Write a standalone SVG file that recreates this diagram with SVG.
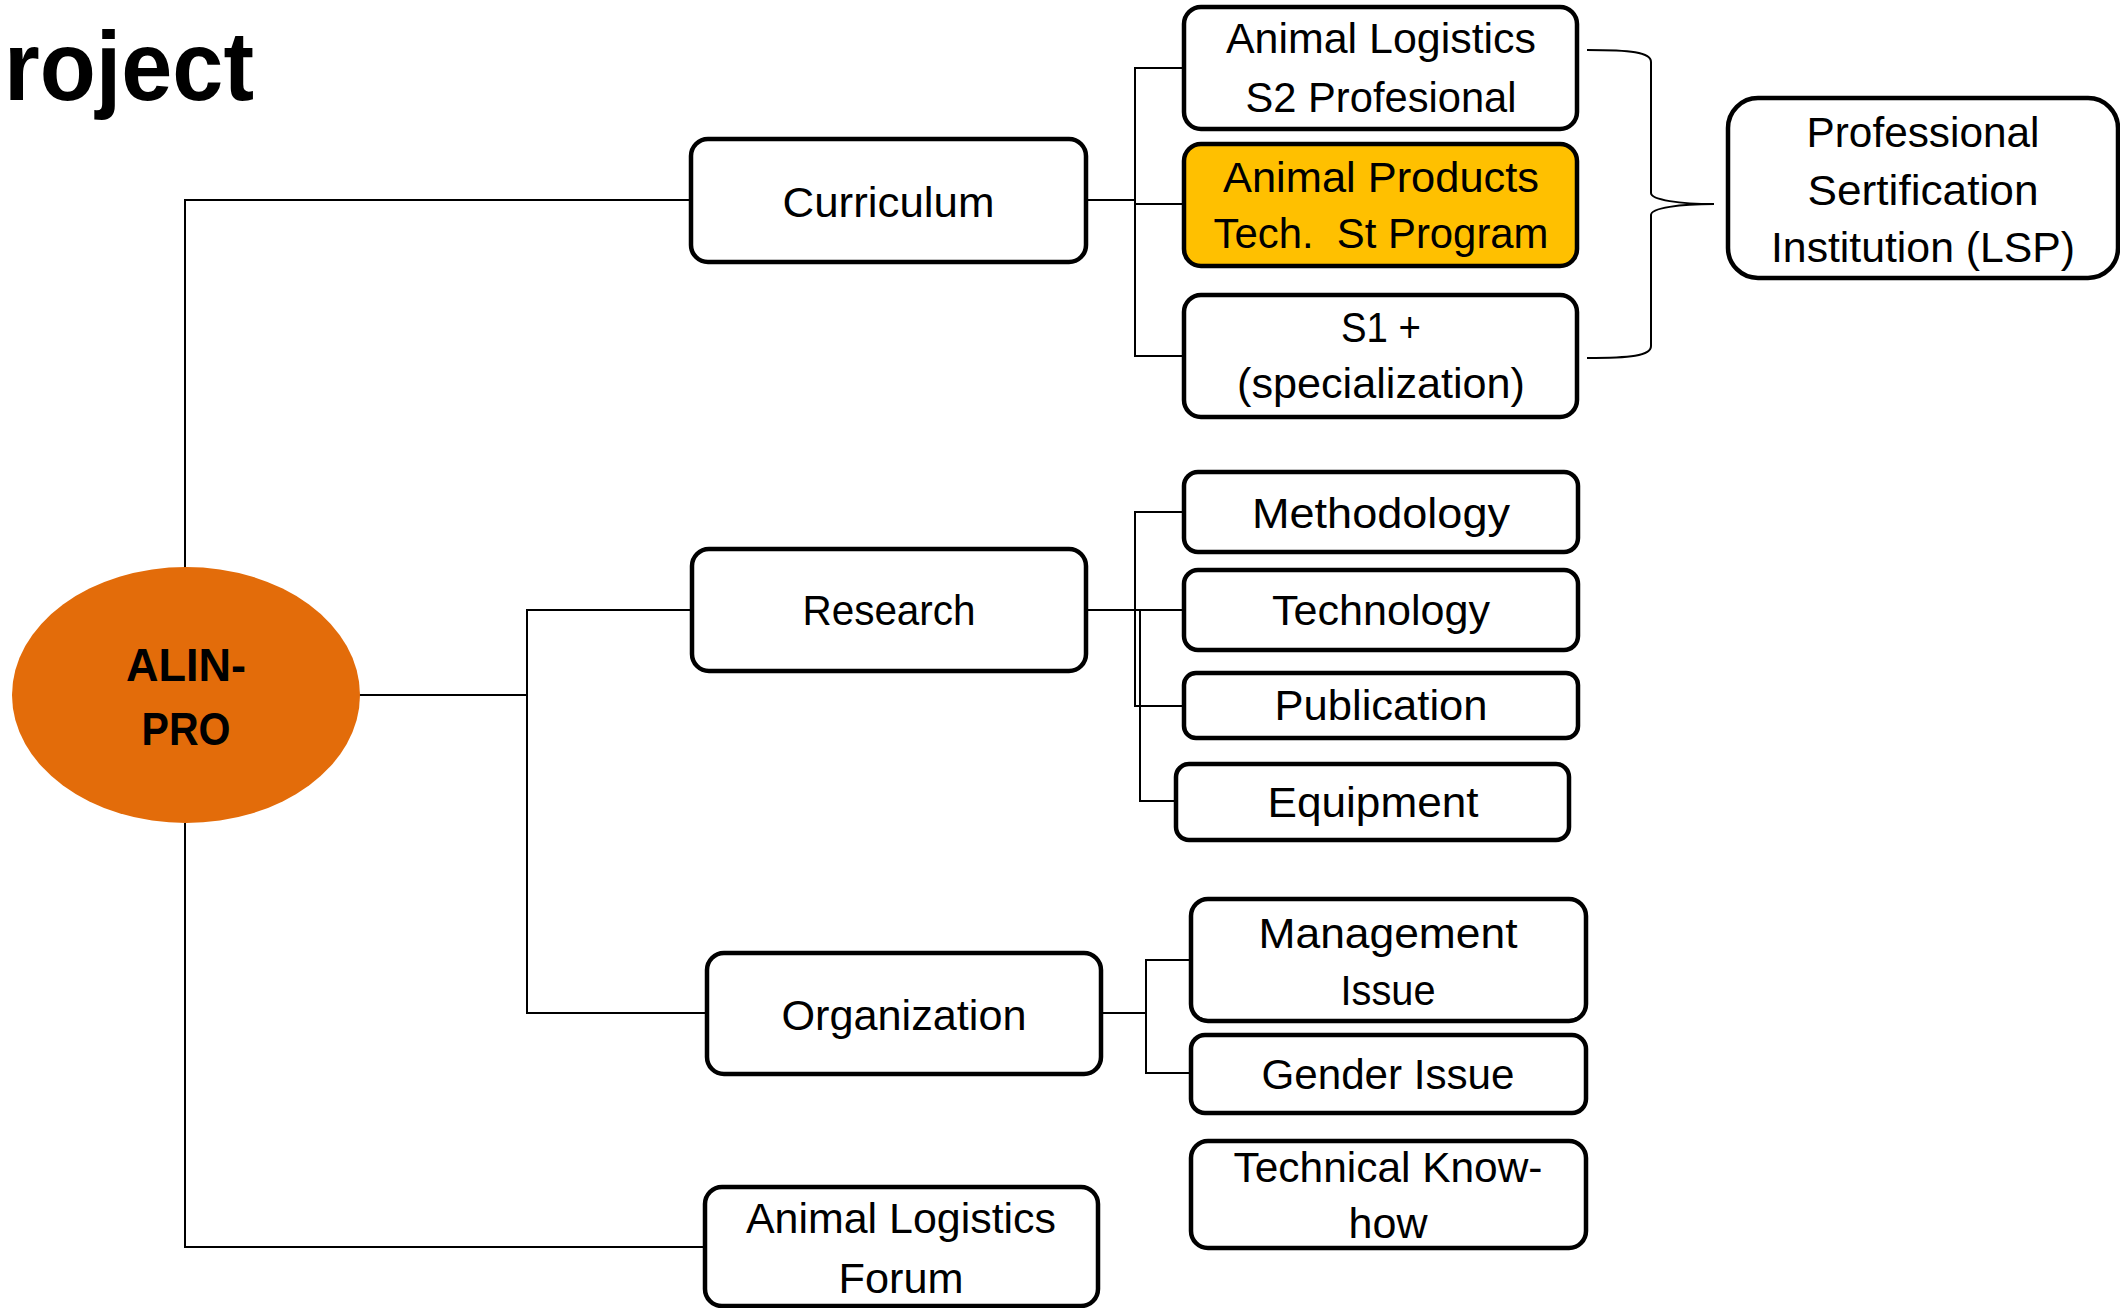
<svg xmlns="http://www.w3.org/2000/svg" width="2120" height="1308" viewBox="0 0 2120 1308">
<style>
.box{fill:#ffffff;stroke:#000000;stroke-width:4.5}
.hl{fill:#FFC000;stroke:#000000;stroke-width:4.5}
.t{font-family:"Liberation Sans",Arial,sans-serif;font-size:43px;fill:#000000;text-anchor:middle}
.b{font-family:"Liberation Sans",Arial,sans-serif;font-weight:bold;fill:#000000}
.c{fill:none;stroke:#000000;stroke-width:2}
</style>
<rect width="2120" height="1308" fill="#ffffff"/>
<text class="b" x="4" y="100" font-size="98" textLength="250" lengthAdjust="spacingAndGlyphs">roject</text>
<g id="connectors">
<polyline class="c" points="691,200 185,200 185,568"/>
<polyline class="c" points="185,823 185,1247 705,1247"/>
<polyline class="c" points="355,695 527,695"/>
<polyline class="c" points="692,610 527,610 527,1013 707,1013"/>
<polyline class="c" points="1086,200 1135,200"/>
<polyline class="c" points="1184,68 1135,68 1135,356 1184,356"/>
<polyline class="c" points="1135,204 1184,204"/>
<polyline class="c" points="1086,610 1184,610"/>
<polyline class="c" points="1184,512 1135,512 1135,706 1184,706"/>
<polyline class="c" points="1140,610 1140,801 1176,801"/>
<polyline class="c" points="1101,1013 1146,1013"/>
<polyline class="c" points="1191,960 1146,960 1146,1073 1191,1073"/>
<path class="c" d="M1587,50 C1630,50 1651,52 1651,62 L1651,193 C1651,200 1680,204 1714,204 C1680,204 1651,208 1651,215 L1651,346 C1651,356 1630,358 1587,358"/>
</g>
<g id="alinpro">
<ellipse cx="186" cy="695" rx="174" ry="128" fill="#E36C0A"/>
<text class="b" x="186" y="681" font-size="47" text-anchor="middle" textLength="120" lengthAdjust="spacingAndGlyphs">ALIN-</text>
<text class="b" x="186" y="745" font-size="47" text-anchor="middle" textLength="89" lengthAdjust="spacingAndGlyphs">PRO</text>
</g>
<g id="curriculum">
<rect class="box" x="691" y="139" width="395" height="123" rx="17"/>
<text class="t" x="888.5" y="217" textLength="212" lengthAdjust="spacingAndGlyphs">Curriculum</text>
</g>
<g id="animal-logistics-s2">
<rect class="box" x="1184" y="7" width="393" height="122" rx="17"/>
<text class="t" x="1381" y="53" textLength="310" lengthAdjust="spacingAndGlyphs">Animal Logistics</text>
<text class="t" x="1381" y="112" textLength="271" lengthAdjust="spacingAndGlyphs">S2 Profesional</text>
</g>
<g id="animal-products">
<rect class="hl" x="1184" y="144" width="393" height="122" rx="17"/>
<text class="t" x="1381" y="192" textLength="316" lengthAdjust="spacingAndGlyphs">Animal Products</text>
<text class="t" x="1381" y="248" xml:space="preserve" textLength="335" lengthAdjust="spacingAndGlyphs">Tech.  St Program</text>
</g>
<g id="s1">
<rect class="box" x="1184" y="295" width="393" height="122" rx="17"/>
<text class="t" x="1381" y="342" textLength="80" lengthAdjust="spacingAndGlyphs">S1 +</text>
<text class="t" x="1381" y="398" textLength="288" lengthAdjust="spacingAndGlyphs">(specialization)</text>
</g>
<g id="lsp">
<rect class="box" x="1728" y="98" width="390" height="180" rx="30"/>
<text class="t" x="1923" y="147" textLength="233" lengthAdjust="spacingAndGlyphs">Professional</text>
<text class="t" x="1923" y="205" textLength="231" lengthAdjust="spacingAndGlyphs">Sertification</text>
<text class="t" x="1923" y="262" textLength="304" lengthAdjust="spacingAndGlyphs">Institution (LSP)</text>
</g>
<g id="research">
<rect class="box" x="692" y="549" width="394" height="122" rx="17"/>
<text class="t" x="889" y="625" textLength="173" lengthAdjust="spacingAndGlyphs">Research</text>
</g>
<g id="methodology">
<rect class="box" x="1184" y="472" width="394" height="80" rx="14"/>
<text class="t" x="1381" y="528" textLength="258" lengthAdjust="spacingAndGlyphs">Methodology</text>
</g>
<g id="technology">
<rect class="box" x="1184" y="570" width="394" height="80" rx="14"/>
<text class="t" x="1381" y="625" textLength="218" lengthAdjust="spacingAndGlyphs">Technology</text>
</g>
<g id="publication">
<rect class="box" x="1184" y="673" width="394" height="65" rx="12"/>
<text class="t" x="1381" y="720" textLength="213" lengthAdjust="spacingAndGlyphs">Publication</text>
</g>
<g id="equipment">
<rect class="box" x="1176" y="764" width="393" height="76" rx="13"/>
<text class="t" x="1373" y="817" textLength="211" lengthAdjust="spacingAndGlyphs">Equipment</text>
</g>
<g id="organization">
<rect class="box" x="707" y="953" width="394" height="121" rx="17"/>
<text class="t" x="904" y="1030" textLength="245" lengthAdjust="spacingAndGlyphs">Organization</text>
</g>
<g id="management">
<rect class="box" x="1191" y="899" width="395" height="122" rx="17"/>
<text class="t" x="1388" y="948" textLength="259" lengthAdjust="spacingAndGlyphs">Management</text>
<text class="t" x="1388" y="1005" textLength="95" lengthAdjust="spacingAndGlyphs">Issue</text>
</g>
<g id="gender">
<rect class="box" x="1191" y="1035" width="395" height="78" rx="14"/>
<text class="t" x="1388" y="1089" textLength="253" lengthAdjust="spacingAndGlyphs">Gender Issue</text>
</g>
<g id="technical">
<rect class="box" x="1191" y="1141" width="395" height="107" rx="17"/>
<text class="t" x="1388" y="1182" textLength="309" lengthAdjust="spacingAndGlyphs">Technical Know-</text>
<text class="t" x="1388" y="1238" textLength="79" lengthAdjust="spacingAndGlyphs">how</text>
</g>
<g id="forum">
<rect class="box" x="705" y="1187" width="393" height="119" rx="17"/>
<text class="t" x="901" y="1233" textLength="310" lengthAdjust="spacingAndGlyphs">Animal Logistics</text>
<text class="t" x="901" y="1293" textLength="125" lengthAdjust="spacingAndGlyphs">Forum</text>
</g>
</svg>
